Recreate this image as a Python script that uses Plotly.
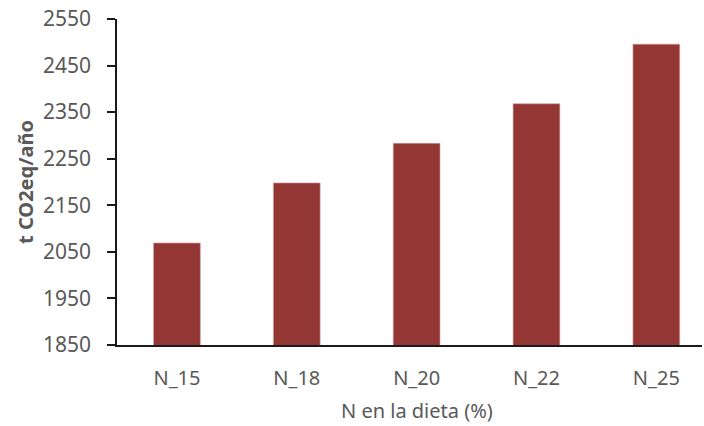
import plotly.graph_objects as go

# Emisiones anuales según el contenido de N en la dieta
categorias = ["N_15", "N_18", "N_20", "N_22", "N_25"]
emisiones = [2069, 2198, 2283, 2368, 2496]
y_ticks = [1850, 1950, 2050, 2150, 2250, 2350, 2450, 2550]

gris = "#595959"
fuente = "Noto Sans"

fig = go.Figure(
    go.Bar(
        x=list(range(len(categorias))),
        y=emisiones,
        marker=dict(color="#943634", line=dict(color="#c9a0a0", width=0.6)),
        width=0.39,
    )
)

fig.update_layout(
    width=704,
    height=426,
    margin=dict(l=117, r=2, t=19, b=81),
    plot_bgcolor="white",
    paper_bgcolor="white",
    showlegend=False,
    font=dict(family=fuente, color=gris),
)

fig.update_xaxes(
    tickmode="array",
    tickvals=list(range(len(categorias))),
    ticktext=categorias,
    range=[-0.5, 4.381],
    showline=True,
    linecolor="#1a1a1a",
    linewidth=1.5,
    ticks="",
    showgrid=False,
    tickfont=dict(size=20, color=gris, family=fuente),
    ticklabelstandoff=14,
)

# Título del eje X centrado bajo las categorías
fig.add_annotation(
    text="N en la dieta (%)",
    xref="x", yref="paper",
    x=2, y=-0.2,
    xanchor="center", yanchor="middle",
    showarrow=False,
    font=dict(size=20, color=gris, family=fuente),
)

fig.update_yaxes(
    range=[1850, 2550],
    tickvals=y_ticks,
    showline=True,
    linecolor="#1a1a1a",
    linewidth=1.5,
    ticks="outside",
    ticklen=8,
    tickcolor="#1a1a1a",
    tickwidth=1.5,
    showgrid=False,
    zeroline=False,
    tickfont=dict(size=21, color=gris, family=fuente),
    ticklabelstandoff=12,
    title=dict(text="<b>t CO2eq/año</b>", font=dict(size=20, color=gris, family=fuente), standoff=4),
)

fig.write_html("out.html")
